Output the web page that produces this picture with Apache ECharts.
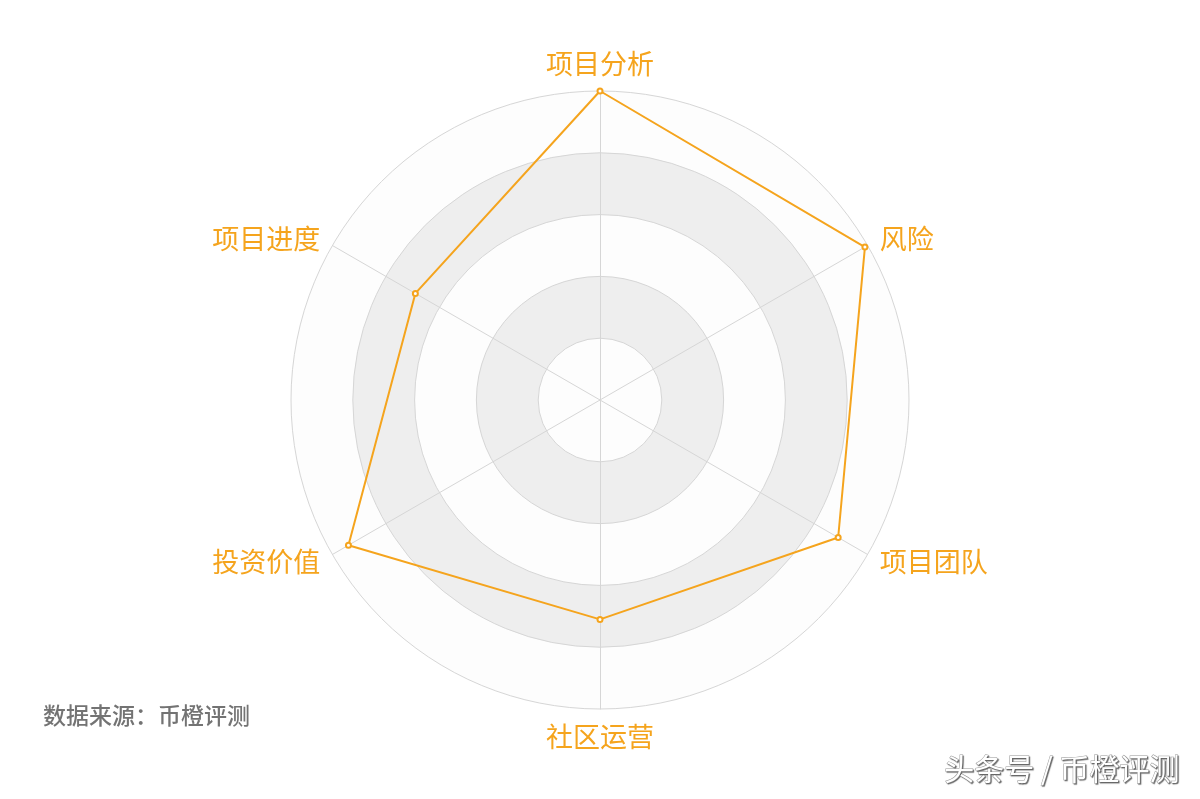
<!DOCTYPE html>
<html>
<head>
<meta charset="utf-8">
<script src="https://cdn.jsdelivr.net/npm/echarts@6/dist/echarts.min.js"></script>
<style>
html,body{margin:0;padding:0;background:#fff;}
#main{width:1200px;height:799px;}
</style>
</head>
<body>
<div id="main"></div>
<script>
// Indicators in ECharts order (top, then counter-clockwise)
var indicatorNames = ['项目分析', '项目进度', '投资价值', '社区运营', '项目团队', '风险'];
var indicatorMax = 100;
var seriesValues = [100, 69, 94, 71, 89, 99];
var sourceText = '数据来源：币橙评测';
var watermarkText = '头条号 / 币橙评测';

var orange = '#f5a41d';
var chart = echarts.init(document.getElementById('main'));
chart.setOption({
  backgroundColor: '#ffffff',
  animation: false,
  textStyle: { fontFamily: '"Noto Sans CJK SC", "Noto Sans", sans-serif' },
  graphic: [
    {
      type: 'text', left: 43, top: 704,
      style: { text: sourceText, fill: '#737373', fontSize: 23, fontWeight: 500,
        fontFamily: '"Noto Sans CJK SC", sans-serif' }
    },
    {
      type: 'text', right: 20, top: 753,
      style: { text: watermarkText, fill: '#ffffff', fontSize: 30,
        fontFamily: '"Noto Sans CJK SC", sans-serif',
        stroke: '#9a9a9a', lineWidth: 1,
        textShadowColor: 'rgba(0,0,0,0.45)', textShadowBlur: 1, textShadowOffsetX: 1, textShadowOffsetY: 1 }
    }
  ],
  radar: {
    shape: 'circle',
    center: [600, 400],
    radius: 309,
    splitNumber: 5,
    nameGap: 14,
    axisName: { color: orange, fontSize: 27, fontFamily: '"Noto Sans CJK SC", sans-serif' },
    splitArea: { show: true, areaStyle: { color: ['rgba(250,250,250,0.3)', 'rgba(200,200,200,0.3)'] } },
    splitLine: { lineStyle: { color: '#d6d6d6' } },
    axisLine: { lineStyle: { color: '#d6d6d6' } },
    indicator: indicatorNames.map(function (n) { return { name: n, max: indicatorMax }; })
  },
  series: [{
    type: 'radar',
    symbol: 'emptyCircle',
    symbolSize: 5,
    lineStyle: { color: orange, width: 2 },
    itemStyle: { color: orange },
    data: [{ value: seriesValues }]
  }]
});
</script>
</body>
</html>
